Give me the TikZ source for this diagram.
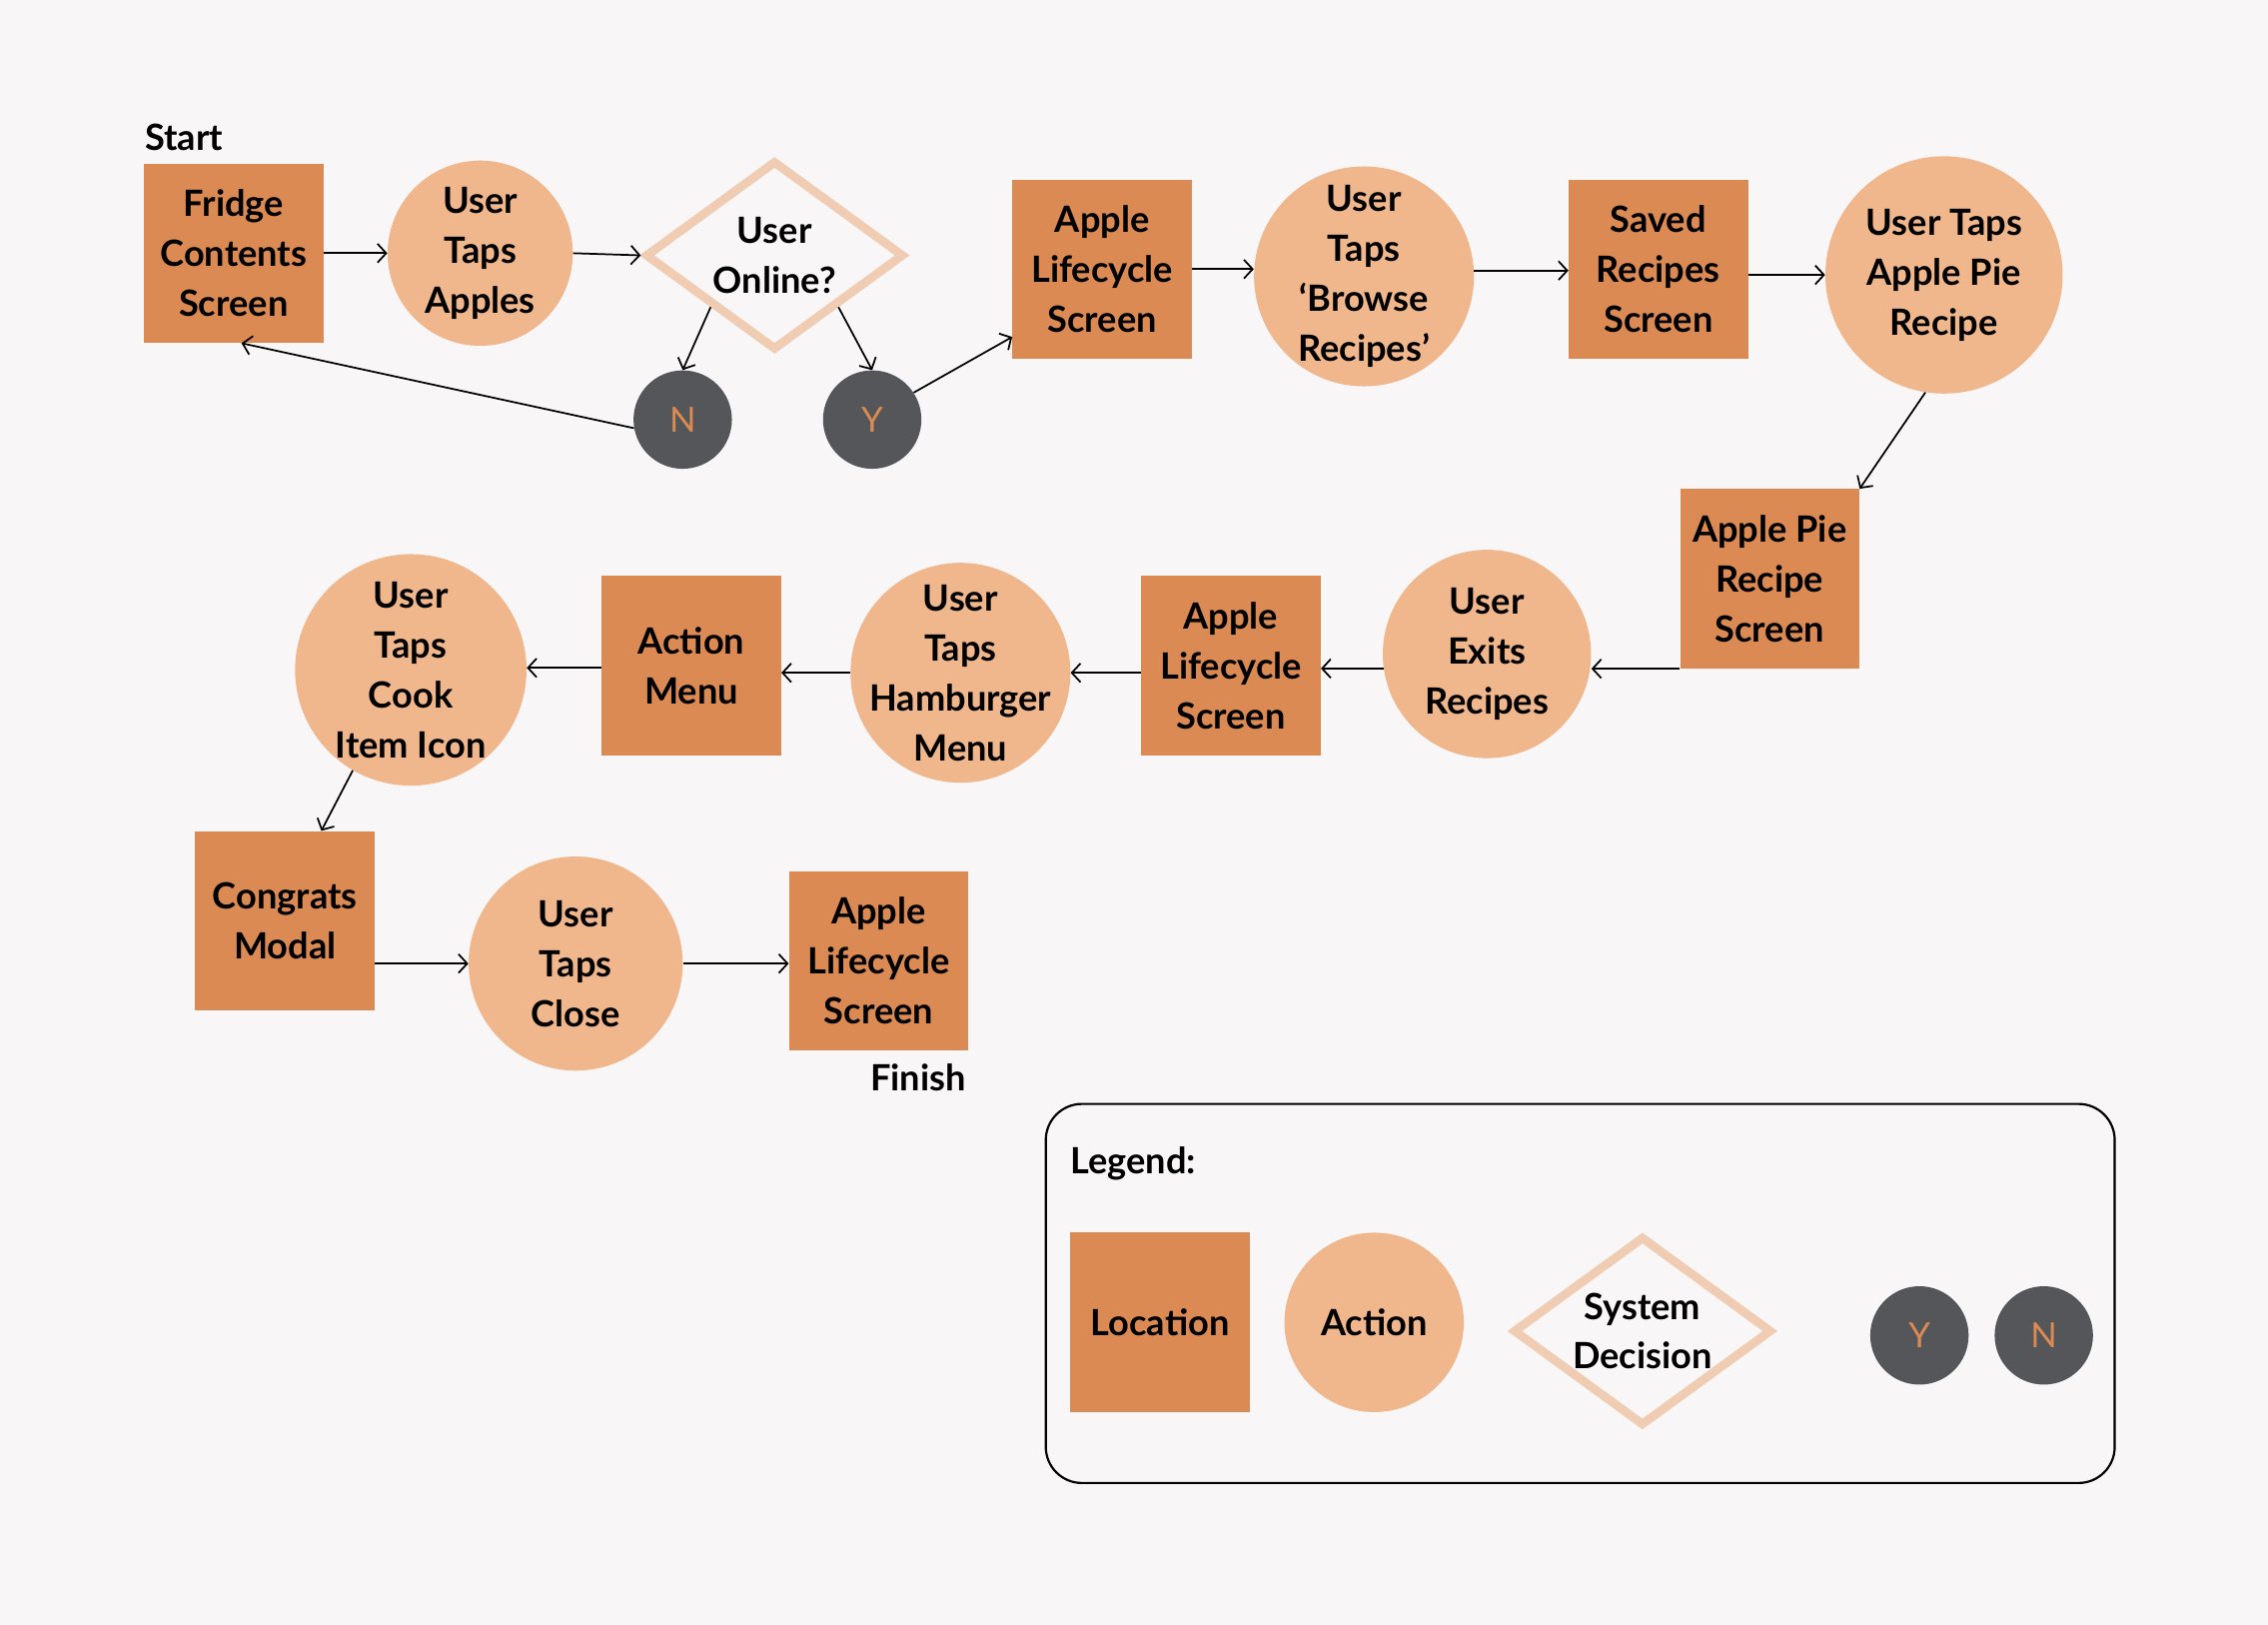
\documentclass[tikz,border=0pt]{standalone}
\usepackage{fontspec}
\setmainfont{Lato}
\usetikzlibrary{shapes.geometric, arrows.meta}
\definecolor{locfill}{HTML}{DA8A52}
\definecolor{actfill}{HTML}{F0B68C}
\definecolor{decline}{HTML}{F0CCB2}
\definecolor{yndark}{HTML}{555659}
\definecolor{bgcol}{HTML}{F8F6F7}

\begin{document}
\begin{tikzpicture}[x=1pt, y=-1pt,
  txt/.style={font=\bfseries\fontsize{25}{34.5}\selectfont, align=center},
  loc/.style={txt, rectangle, fill=locfill, minimum width=124, minimum height=124, inner sep=0},
  act/.style={txt, circle, fill=actfill, inner sep=-30pt},
  dec/.style={txt, diamond, draw=decline, line width=6, minimum width=179, minimum height=131, inner sep=-20pt},
  yn/.style={circle, fill=yndark, text=locfill, minimum size=68, inner sep=0, font=\fontsize{24}{26}\selectfont},
  flow/.style={-{Straight Barb[length=6pt, width=13pt]}, line width=1.2}]
\fill[bgcol] (0,0) rectangle (1568,1123);
\node[txt, anchor=west, inner sep=0] (start) at (100,95) {Start};
\node[loc] (fridge) at (161.5,175) {Fridge\\Contents\\Screen};
\node[act, minimum size=128] (tapapples) at (332,175) {User\\Taps\\Apples};
\node[dec] (online) at (535.5,176.5) {User\\Online?};
\node[yn] (no) at (472,290) {N};
\node[yn] (yes) at (603,290) {Y};
\node[loc] (life1) at (762,186) {Apple\\Lifecycle\\Screen};
\node[act, minimum size=152] (browse) at (943,191) {User\\Taps\\‘Browse\\Recipes’};
\node[loc] (saved) at (1146.5,186) {Saved\\Recipes\\Screen};
\node[act, minimum size=164] (tappie) at (1344,190) {User Taps\\Apple Pie\\Recipe};
\node[loc] (pie) at (1223.5,400) {Apple Pie\\Recipe\\Screen};
\node[act, minimum size=144] (exits) at (1028,452) {User\\Exits\\Recipes};
\node[loc] (life2) at (851,460) {Apple\\Lifecycle\\Screen};
\node[act, minimum size=152] (burger) at (664,465) {User\\Taps\\Hamburger\\Menu};
\node[loc] (menu) at (478,460) {Action\\Menu};
\node[act, minimum size=160] (cook) at (284,463) {User\\Taps\\Cook\\Item Icon};
\node[loc] (congrats) at (197,636.5) {Congrats\\Modal};
\node[act, minimum size=148] (close) at (398,666) {User\\Taps\\Close};
\node[loc] (life3) at (607.5,664) {Apple\\Lifecycle\\Screen};
\node[txt, anchor=east, inner sep=0] (finish) at (668,745) {Finish};
\draw[flow] (fridge.east) -- (tapapples.west);
\draw[flow] (tapapples.east) -- (online.west);
\draw[flow] (online.-141) -- (no.north);
\draw[flow] (online.-39) -- (yes.north);
\draw[flow] (no.190) -- (fridge.-85);
\draw[flow] (yes.33) -- (life1.217);
\draw[flow] (life1.east) -- (life1.east -| browse.west);
\draw[flow] (browse.3) -- (browse.3 -| saved.west);
\draw[flow] (tappie.west -| saved.east) -- (tappie.west);
\draw[flow] (tappie.-99) -- (pie.north east);
\draw[flow] (pie.south west) -- (pie.south west -| exits.east);
\draw[flow] (exits.188) -- (exits.188 -| life2.east);
\draw[flow] (life2.west |- burger.east) -- (burger.east);
\draw[flow] (burger.west) -- (burger.west -| menu.east);
\draw[flow] (menu.west |- cook.1) -- (cook.1);
\draw[flow] (cook.-120) -- (congrats.68);
\draw[flow] (congrats.east |- close.west) -- (close.west);
\draw[flow] (close.east) -- (close.east -| life3.west);
% Legend:
\draw[line width=1.5, rounded corners=25] (723,763) rectangle (1462,1025);
\node[txt, anchor=west, inner sep=0] (legend) at (740,804) {Legend:};
\node[loc] (lloc) at (802,914) {Location};
\node[act, minimum size=124] (lact) at (950,914) {Action};
\node[dec] (ldec) at (1135.5,920) {System\\Decision};
\node[yn] (lyes) at (1327,923) {Y};
\node[yn] (lno) at (1413,923) {N};
\end{tikzpicture}
\end{document}
